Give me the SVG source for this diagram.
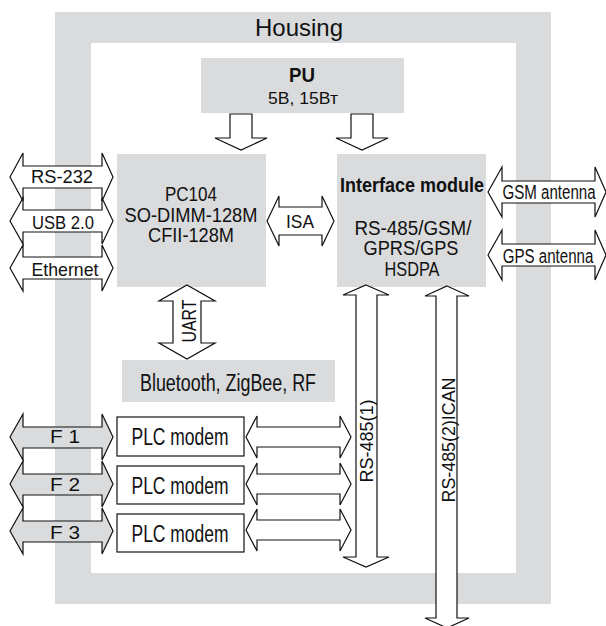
<svg xmlns="http://www.w3.org/2000/svg" width="606" height="626" viewBox="0 0 606 626">
<style>
.g{fill:#d9dbdc}
.t{font-family:"Liberation Sans Narrow","Liberation Sans",Arial,sans-serif;fill:#111;text-anchor:middle}
.b{font-weight:bold}
.aw{fill:#fff;stroke:#111;stroke-width:1.2;stroke-linejoin:miter}
.ag{fill:#d9dbdc;stroke:#111;stroke-width:1.2}
.box{fill:#fff;stroke:#111;stroke-width:1.2}
</style>
<rect width="606" height="626" fill="#fff"/>
<g id="housing">
<rect class="g" x="55" y="12" width="496" height="592"/>
<rect x="91" y="43" width="425" height="530" fill="#fff"/>
<text class="t" x="299" y="36" font-size="24" textLength="88" lengthAdjust="spacingAndGlyphs" style="font-family:'Liberation Sans',Arial,sans-serif">Housing</text>
</g>
<g id="pu">
<rect class="g" x="201" y="58" width="203" height="55"/>
<text class="t b" x="302" y="82" font-size="20" textLength="26" lengthAdjust="spacingAndGlyphs">PU</text>
<text class="t" x="303" y="104" font-size="17" textLength="70" lengthAdjust="spacingAndGlyphs">5В, 15Вт</text>
</g>
<g id="pc104">
<rect class="g" x="117" y="154" width="149" height="133"/>
<text class="t" x="191" y="201" font-size="20" textLength="52" lengthAdjust="spacingAndGlyphs">PC104</text>
<text class="t" x="191" y="222" font-size="20" textLength="133" lengthAdjust="spacingAndGlyphs">SO-DIMM-128M</text>
<text class="t" x="191" y="242" font-size="20" textLength="86" lengthAdjust="spacingAndGlyphs">CFII-128M</text>
</g>
<g id="interface">
<rect class="g" x="337" y="154" width="149" height="133"/>
<text class="t b" x="412" y="192" font-size="20" textLength="144" lengthAdjust="spacingAndGlyphs">Interface module</text>
<text class="t" x="413" y="235" font-size="20" textLength="117" lengthAdjust="spacingAndGlyphs">RS-485/GSM/</text>
<text class="t" x="411" y="255" font-size="20" textLength="95" lengthAdjust="spacingAndGlyphs">GPRS/GPS</text>
<text class="t" x="412" y="276" font-size="20" textLength="55" lengthAdjust="spacingAndGlyphs">HSDPA</text>
</g>
<g id="wireless">
<rect class="g" x="122" y="360" width="213" height="42"/>
<text class="t" x="228" y="391" font-size="23" textLength="176" lengthAdjust="spacingAndGlyphs">Bluetooth, ZigBee, RF</text>
</g>
<g id="plc1">
<rect class="box" x="117" y="417" width="127" height="39"/>
<text class="t" x="180" y="445" font-size="23" textLength="97" lengthAdjust="spacingAndGlyphs">PLC modem</text>
</g>
<g id="plc2">
<rect class="box" x="117" y="466" width="127" height="38"/>
<text class="t" x="180" y="494" font-size="23" textLength="97" lengthAdjust="spacingAndGlyphs">PLC modem</text>
</g>
<g id="plc3">
<rect class="box" x="117" y="514" width="127" height="38"/>
<text class="t" x="180" y="542" font-size="23" textLength="97" lengthAdjust="spacingAndGlyphs">PLC modem</text>
</g>
<g id="connectors">
<polygon class="aw" points="230,114 252,114 252,138 267,138 241,150 215,138 230,138"/>
<polygon class="aw" points="351,114 373,114 373,138 388,138 362,150 336,138 351,138"/>
<polygon class="aw" points="10,177 23,153 23,166 102,166 102,153 113,177 102,201 102,188 23,188 23,201"/>
<polygon class="aw" points="10,221 23,198 23,210 102,210 102,198 113,221 102,244 102,232 23,232 23,244"/>
<polygon class="aw" points="10,268 23,245 23,257 102,257 102,245 113,268 102,291 102,279 23,279 23,291"/>
<polygon class="aw" points="267,221 279,196 279,207 322,207 322,196 334,221 322,246 322,235 279,235 279,246"/>
<polygon class="aw" points="488,192 502,167 502,181 595,181 595,167 606,192 595,217 595,203 502,203 502,217"/>
<polygon class="aw" points="488,255 502,230 502,244 595,244 595,230 606,255 595,280 595,266 502,266 502,280"/>
<polygon class="aw" points="187,285 215,301 201,301 201,343 215,343 187,359 159,343 173,343 173,301 159,301"/>
<polygon class="ag" points="10,437 23,414 23,427 102,427 102,414 113,437 102,460 102,448 23,448 23,460"/>
<polygon class="ag" points="10,484 23,461 23,474 102,474 102,461 113,484 102,507 102,495 23,495 23,507"/>
<polygon class="ag" points="10,531 23,508 23,521 102,521 102,508 113,531 102,554 102,542 23,542 23,554"/>
<polygon class="aw" points="246,437 257,416 257,427 340,427 340,416 351,437 340,458 340,447 257,447 257,458"/>
<polygon class="aw" points="246,484 257,463 257,474 340,474 340,463 351,484 340,505 340,494 257,494 257,505"/>
<polygon class="aw" points="246,530 257,509 257,520 340,520 340,509 351,530 340,551 340,540 257,540 257,551"/>
<polygon class="aw" points="366,285 389,295 377,295 377,557 389,557 366,567 343,557 356,557 356,295 343,295"/>
<polygon class="aw" points="447,286 469,296 457,296 457,618 469,618 447,628 425,618 436,618 436,296 425,296"/>
<text class="t" x="62" y="183" font-size="19" textLength="62" lengthAdjust="spacingAndGlyphs">RS-232</text>
<text class="t" x="63" y="229" font-size="19" textLength="62" lengthAdjust="spacingAndGlyphs">USB 2.0</text>
<text class="t" x="65" y="276" font-size="19" textLength="67" lengthAdjust="spacingAndGlyphs">Ethernet</text>
<text class="t" x="300" y="228" font-size="19" textLength="28" lengthAdjust="spacingAndGlyphs">ISA</text>
<text class="t" x="0" y="0" font-size="21" transform="translate(549,199) scale(0.72,1)">GSM antenna</text>
<text class="t" x="0" y="0" font-size="21" transform="translate(548,263) scale(0.72,1)">GPS antenna</text>
<text class="t" x="0" y="0" font-size="20" textLength="43" lengthAdjust="spacingAndGlyphs" transform="translate(196,321) rotate(-90)">UART</text>
<text class="t" x="65" y="443" font-size="19" textLength="30" lengthAdjust="spacingAndGlyphs">F 1</text>
<text class="t" x="65" y="491" font-size="19" textLength="30" lengthAdjust="spacingAndGlyphs">F 2</text>
<text class="t" x="65" y="539" font-size="19" textLength="30" lengthAdjust="spacingAndGlyphs">F 3</text>
<text class="t" x="0" y="0" font-size="19" textLength="83" lengthAdjust="spacingAndGlyphs" transform="translate(373,441) rotate(-90)">RS-485(1)</text>
<text class="t" x="0" y="0" font-size="19" textLength="125" lengthAdjust="spacingAndGlyphs" transform="translate(455,440) rotate(-90)">RS-485(2)ICAN</text>
</g>
</svg>
